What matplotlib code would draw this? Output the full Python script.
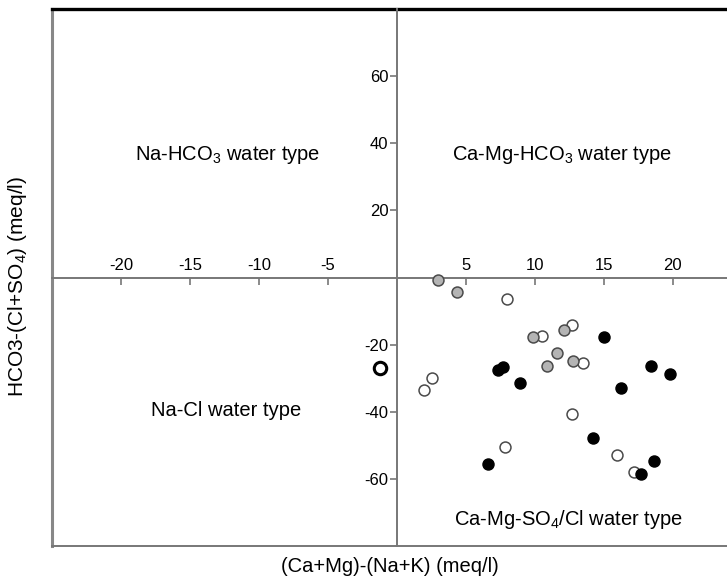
import numpy as np
import matplotlib
matplotlib.use('Agg')
from matplotlib import pyplot as plt
from matplotlib.lines import Line2D

plt.rcParams['font.family'] = ['Liberation Sans', 'DejaVu Sans']
plt.rcParams['mathtext.fontset'] = 'custom'
plt.rcParams['mathtext.rm'] = 'Liberation Sans'
plt.rcParams['mathtext.it'] = 'Liberation Sans'

# grey filled samples
grey_x = [2.99, 4.37, 9.83, 12.13, 11.64, 10.85, 12.78]
grey_y = [-0.7, -4.4, -17.8, -15.6, -22.6, -26.3, -25.0]

# open samples
open_x = [7.99, 10.53, 12.71, 13.5, 2.51, 1.98, 12.71, 7.87, 15.99, 17.17]
open_y = [-6.4, -17.3, -14.3, -25.4, -29.8, -33.5, -40.7, -50.4, -52.8, -58.1]

# black samples
black_x = [15.02, 7.34, 7.7, 8.91, 18.45, 19.78, 16.23, 14.25, 6.62, 18.65, 17.73]
black_y = [-17.8, -27.5, -26.6, -31.5, -26.5, -28.8, -33.0, -47.9, -55.6, -54.8, -58.4]

# odd bold marker left of the axis
odd_x = [-1.23]
odd_y = [-26.9]

x_ticks = [-20, -15, -10, -5, 5, 10, 15, 20]
y_ticks = [-60, -40, -20, 20, 40, 60]

fig = plt.figure(figsize=(7.27, 5.80), dpi=100)
ax = fig.add_axes([52 / 727, 34 / 580, 676 / 727, 537 / 580])
ax.set_xlim(-25, 24)
ax.set_ylim(-80, 80)

ax.scatter(open_x, open_y, s=62, facecolor='white', edgecolor='#4a4a4a', linewidth=1.1, zorder=3)
ax.scatter(grey_x, grey_y, s=62, facecolor='#b4b4b4', edgecolor='#4a4a4a', linewidth=1.1, zorder=3)
ax.scatter(black_x, black_y, s=62, facecolor='black', edgecolor='black', linewidth=1.1, zorder=4)
ax.scatter(odd_x, odd_y, s=80, facecolor='white', edgecolor='black', linewidth=2.2, zorder=4)

# centred axes
ax.spines['left'].set_position(('data', 0))
ax.spines['top'].set_position(('data', 0))
ax.spines['right'].set_visible(False)
for s in ['left', 'top', 'bottom']:
    ax.spines[s].set_color('#777777')
    ax.spines[s].set_linewidth(1.4)

ax.xaxis.set_ticks_position('top')
ax.set_xticks(x_ticks)
ax.set_xticklabels([str(t) for t in x_ticks])
ax.tick_params(axis='x', direction='in', length=5, width=1.2, color='#777777',
               labelsize=12, pad=3, top=True, bottom=False, labeltop=True, labelbottom=False)
ax.set_yticks(y_ticks)
ax.set_yticklabels([str(t) for t in y_ticks])
ax.tick_params(axis='y', direction='out', length=5, width=1.2, color='#777777',
               labelsize=12, pad=1)

# outer frame: grey left, heavy black top
ax.add_line(Line2D([0, 0], [0, 1], transform=ax.transAxes, color='#888888', lw=2.2, clip_on=False))
ax.add_line(Line2D([0, 1], [1, 1], transform=ax.transAxes, color='black', lw=2.4, clip_on=False))

fs = 14.5
ax.text(-12.3, 36.6, r'Na-HCO$_{\mathrm{3}}$ water type', fontsize=fs, ha='center', va='center')
ax.text(11.96, 36.6, r'Ca-Mg-HCO$_{\mathrm{3}}$ water type', fontsize=fs, ha='center', va='center')
ax.text(-12.4, -39.7, 'Na-Cl water type', fontsize=fs, ha='center', va='center')
ax.text(12.4, -72, r'Ca-Mg-SO$_{\mathrm{4}}$/Cl water type', fontsize=fs, ha='center', va='center')

fig.text(390 / 727, 1 - 567 / 580, '(Ca+Mg)-(Na+K) (meq/l)', fontsize=14.5, ha='center', va='center')
fig.text(18 / 727, 1 - 286 / 580, r'HCO3-(Cl+SO$_{\mathrm{4}}$) (meq/l)', fontsize=15,
         ha='center', va='center', rotation=90)

fig.savefig('out.png', dpi=100)
